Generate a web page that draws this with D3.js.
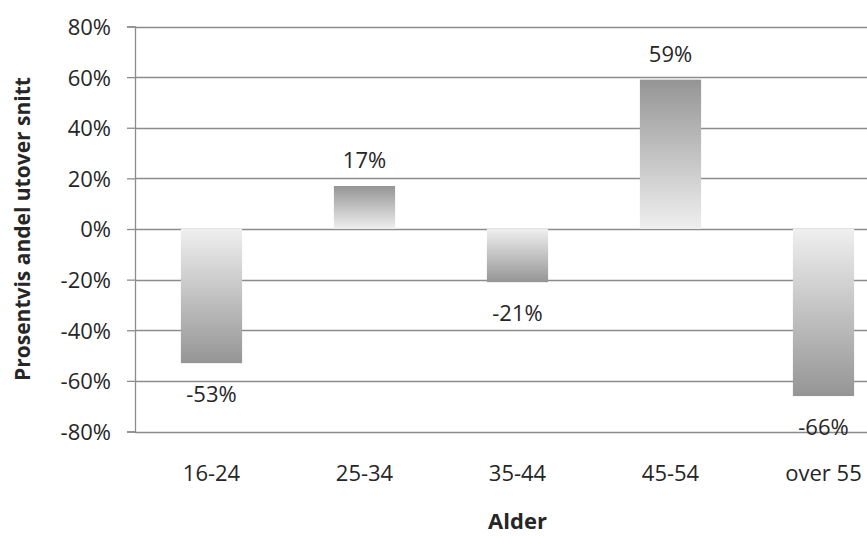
<!DOCTYPE html>
<html>
<head>
<meta charset="utf-8">
<script src="https://cdn.jsdelivr.net/npm/d3@7"></script>
<style>
  html, body { margin: 0; padding: 0; background: #ffffff; }
  svg { display: block; }
  text { font-family: "Open Sans", sans-serif; fill: #262626; }
</style>
</head>
<body>
<svg id="chart" width="867" height="536"></svg>
<script>
// Age groups and their share above average (percent)
const categories = ["16-24", "25-34", "35-44", "45-54", "over 55"];
const values = [-53, 17, -21, 59, -66];
const tickValues = [-80, -60, -40, -20, 0, 20, 40, 60, 80];
const yTitle = "Prosentvis andel utover snitt";
const xTitle = "Alder";

const W = 867, H = 536;
const plot = { left: 135, top: 26.5, bottom: 431.5, step: 153 };
const plotRight = plot.left + plot.step * categories.length;

const svg = d3.select("#chart");

const x = d3.scaleBand()
  .domain(categories)
  .range([plot.left, plotRight])
  .paddingInner(0.6)
  .paddingOuter(0.3);

const y = d3.scaleLinear()
  .domain([-80, 80])
  .range([plot.bottom, plot.top]);

// Gradients: dark at the bar's outer end, fading to light at zero
const defs = svg.append("defs");
const gUp = defs.append("linearGradient").attr("id", "gradUp")
  .attr("x1", 0).attr("y1", 0).attr("x2", 0).attr("y2", 1);
gUp.append("stop").attr("offset", "0%").attr("stop-color", "#959595");
gUp.append("stop").attr("offset", "100%").attr("stop-color", "#efefef");
const gDown = defs.append("linearGradient").attr("id", "gradDown")
  .attr("x1", 0).attr("y1", 0).attr("x2", 0).attr("y2", 1);
gDown.append("stop").attr("offset", "0%").attr("stop-color", "#efefef");
gDown.append("stop").attr("offset", "100%").attr("stop-color", "#959595");

// Horizontal gridlines
svg.append("g")
  .selectAll("line")
  .data(tickValues)
  .join("line")
  .attr("x1", plot.left)
  .attr("x2", W)
  .attr("y1", d => Math.round(y(d)) + 0.5)
  .attr("y2", d => Math.round(y(d)) + 0.5)
  .attr("stroke", "#8c8c8c")
  .attr("stroke-width", 1.3);

// Y axis with percent tick labels
const yAxis = d3.axisLeft(y)
  .tickValues(tickValues)
  .tickSize(8)
  .tickPadding(16)
  .tickFormat(d => d + "%");

const yg = svg.append("g")
  .attr("transform", `translate(${plot.left},0)`)
  .call(yAxis);
yg.select(".domain").attr("stroke", "#8c8c8c").attr("stroke-width", 1.3);
yg.selectAll(".tick line").attr("stroke", "#8c8c8c").attr("stroke-width", 1.3);
yg.selectAll(".tick text")
  .style("font-family", "'Open Sans', sans-serif")
  .style("font-size", "22px")
  .attr("fill", "#262626")
  .attr("dy", "0.36em");

// Bars
svg.append("g")
  .selectAll("rect")
  .data(values)
  .join("rect")
  .attr("x", (d, i) => x(categories[i]))
  .attr("width", x.bandwidth())
  .attr("y", d => y(Math.max(0, d)))
  .attr("height", d => Math.abs(y(d) - y(0)))
  .attr("fill", d => d >= 0 ? "url(#gradUp)" : "url(#gradDown)");

// Value labels
svg.append("g")
  .selectAll("text")
  .data(values)
  .join("text")
  .attr("x", (d, i) => x(categories[i]) + x.bandwidth() / 2)
  .attr("y", d => d >= 0 ? y(d) - 18 : y(d) + 39)
  .attr("text-anchor", "middle")
  .style("font-size", "22px")
  .text(d => d + "%");

// Category labels
svg.append("g")
  .selectAll("text")
  .data(categories)
  .join("text")
  .attr("x", d => x(d) + x.bandwidth() / 2)
  .attr("y", 481)
  .attr("text-anchor", "middle")
  .style("font-size", "22px")
  .text(d => d);

// Axis titles
svg.append("text")
  .attr("x", (plot.left + plotRight) / 2)
  .attr("y", 529)
  .attr("text-anchor", "middle")
  .style("font-size", "22px")
  .style("font-weight", "bold")
  .text(xTitle);

svg.append("text")
  .attr("transform", `translate(30,${(plot.top + plot.bottom) / 2}) rotate(-90)`)
  .attr("text-anchor", "middle")
  .style("font-size", "21px")
  .style("font-weight", "bold")
  .text(yTitle);
</script>
</body>
</html>
